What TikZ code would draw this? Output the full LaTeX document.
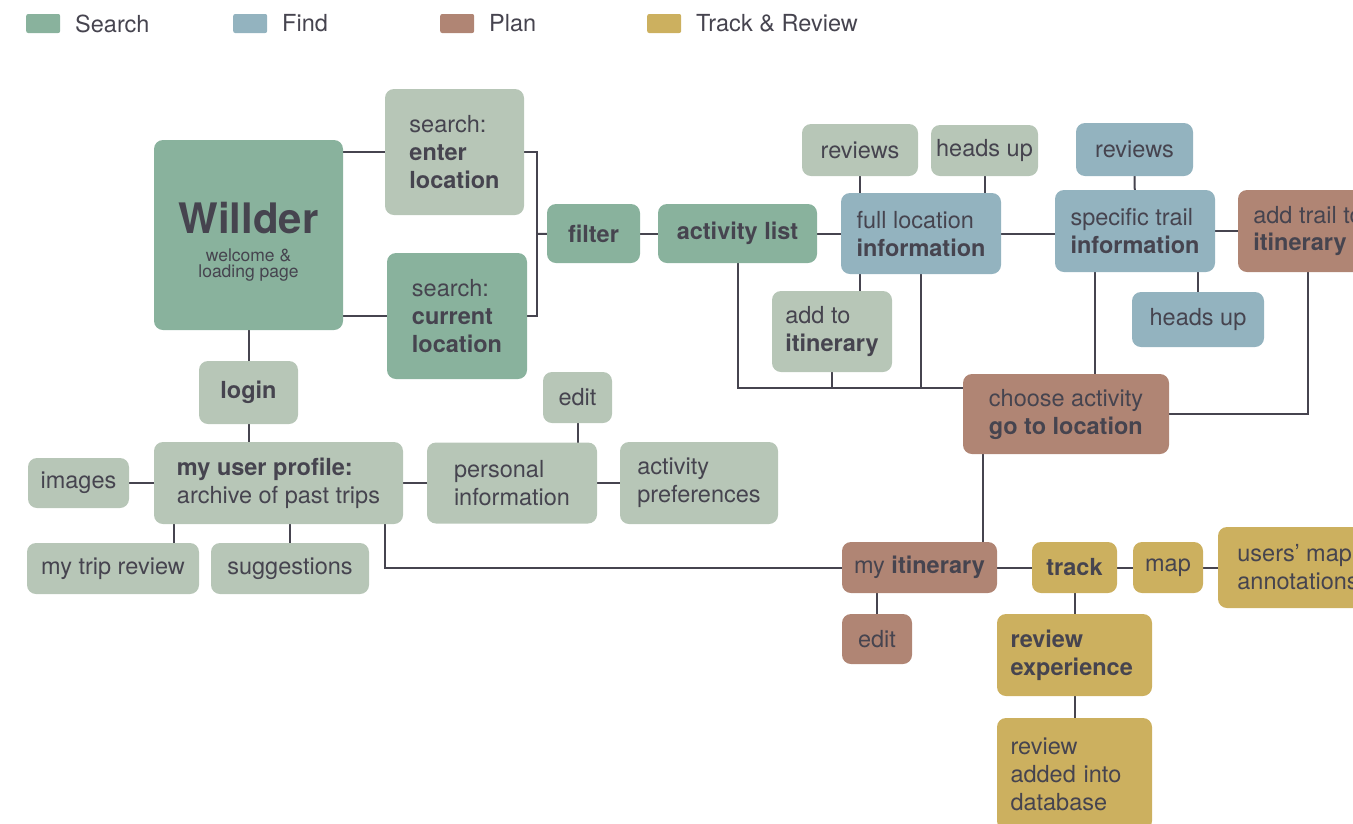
\documentclass[tikz,border=0pt]{standalone}
\usepackage{fontspec}
\setmainfont{TeX Gyre Heros}
\usetikzlibrary{positioning,calc}
\definecolor{ink}{HTML}{46444F}
\definecolor{srch}{HTML}{89B29D}
\definecolor{sage}{HTML}{B7C6B7}
\definecolor{find}{HTML}{93B3BF}
\definecolor{plan}{HTML}{B08574}
\definecolor{trk}{HTML}{CCB05F}
\tikzstyle{box}=[rounded corners=9pt,text=ink,inner sep=0pt,align=left,font=\fontsize{23.5}{28}\selectfont]
\tikzstyle{search box}=[box,fill=srch]
\tikzstyle{sub box}=[box,fill=sage]
\tikzstyle{find box}=[box,fill=find]
\tikzstyle{plan box}=[box,fill=plan]
\tikzstyle{review box}=[box,fill=trk]
\tikzstyle{legend key}=[rounded corners=2pt,minimum width=34pt,minimum height=19pt,inner sep=0pt]
\tikzstyle{legend label}=[text=ink,font=\fontsize{23.5}{28}\selectfont,inner sep=0pt,anchor=west]
\tikzstyle{link}=[draw,ink,line width=2pt]
\tikzset{wh/.style 2 args={minimum width=#1pt,minimum height=#2pt}}
\pgfdeclarelayer{background}
\pgfsetlayers{background,main}

\begin{document}
\begin{tikzpicture}[x=1pt,y=-1pt]
\useasboundingbox (0,0) rectangle (1353,823);
\clip (0,0) rectangle (1353,823);

% Legend
\foreach \x/\col/\name/\lbl in {26/srch/search/Search,233/find/find/Find,440/plan/plan/Plan,647/trk/track/{Track \& Review}}{
\node[legend key,fill=\col,anchor=west] (key\name) at (\x,23.5) {};
\node[legend label] (lbl\name) at (\x+49,23.5) {\lbl};
}

% Search
\node[search box,wh={189}{190},text width=189pt,align=flush center] (willder) at (248.5,235)
{{\fontsize{42}{46}\selectfont\bfseries Willder\par}\vspace{12pt}{\fontsize{17.5}{16}\selectfont welcome \&\par loading page\par}\vspace{-13pt}};
\node[sub box,wh={139}{126}] (enter) at (454.5,152) {search:\\\textbf{enter}\\\textbf{location}};
\node[search box,wh={140}{126}] (current) at (457,316) {search:\\\textbf{current}\\\textbf{location}};
\node[search box,wh={93}{59}] (filter) at (593.5,233.5) {\textbf{filter}};
\node[search box,wh={159}{59}] (actlist) at (737.5,233.5) {\textbf{activity list}};
\node[sub box,wh={99}{63}] (login) at (248.5,392.5) {\textbf{login}};
\node[sub box,wh={249}{82}] (profile) at (278.5,483) {\textbf{my user profile:}\\archive of past trips};
\node[sub box,wh={101}{50}] (images) at (78.5,483) {images};
\node[sub box,wh={172}{51}] (tripreview) at (113,568.5) {my trip review};
\node[sub box,wh={158}{51}] (suggest) at (290,568.5) {suggestions};
\node[sub box,wh={69}{51}] (edit1) at (577.5,397.5) {edit};
\node[sub box,wh={170}{81}] (persinfo) at (512,483) {personal\\information};
\node[sub box,wh={158}{82}] (actpref) at (699,483) {activity\\preferences};

% Find
\node[find box,wh={160}{81}] (fullloc) at (921,233.5) {full location\\\textbf{information}};
\node[sub box,wh={116}{52}] (revs1) at (860,150) {reviews};
\node[sub box,wh={107}{51}] (heads1) at (984.5,150.5) {heads up};
\node[sub box,wh={120}{81}] (additin) at (832,331.5) {add to\\\textbf{itinerary}};
\node[find box,wh={160}{82}] (trail) at (1135,231) {specific trail\\\textbf{information}};
\node[find box,wh={117}{53}] (revs2) at (1134.5,149.5) {reviews};
\node[find box,wh={132}{55}] (heads2) at (1198,319.5) {heads up};

% Plan
\node[plan box,wh={140}{82}] (addtrail) at (1308,231) {add trail to\\\textbf{itinerary}};
\node[plan box,wh={206}{80}] (choose) at (1066,414) {choose activity\\\textbf{go to location}};
\node[plan box,wh={155}{51}] (itin) at (919.5,567.5) {my \textbf{itinerary}};
\node[plan box,wh={70}{50}] (edit2) at (877,639) {edit};

% Track & Review
\node[review box,wh={85}{51}] (track) at (1074.5,567.5) {\textbf{track}};
\node[review box,wh={70}{51}] (map) at (1168,567.5) {map};
\node[review box,wh={160}{81}] (usersmap) at (1298,567.5) {users’ map\\annotations};
\node[review box,wh={155}{82},text width=128pt] (revexp) at (1074.5,655) {\textbf{review}\\\textbf{experience}};
\node[review box,wh={155}{112},text width=128pt] (revdb) at (1074.5,774) {review\\added into\\database};

% Connectors
\begin{pgfonlayer}{background}
\coordinate (brk) at (537,234);
\coordinate (junc) at ([yshift=26pt]choose.west);
\coordinate (tb) at ([xshift=40pt]trail.south west);
\coordinate (cb) at ([xshift=20pt]choose.south west);
\coordinate (pa) at ([xshift=20pt]profile.south west);
\coordinate (pb) at ([xshift=-18pt]profile.south east);

\foreach \source/\dest in {filter/actlist,actlist/fullloc,revs2/trail,willder/login,images/profile,profile/persinfo,persinfo/actpref,itin/track,track/map,map/usersmap,track/revexp,revexp/revdb,brk/filter}
\path[link] (\source) -- (\dest);

\foreach \source/\dest in {revs1/additin,heads1/fullloc,heads2/trail,edit1/persinfo,edit2/itin,login/profile,suggest/profile,fullloc/junc,additin/junc,tb/choose,cb/itin,pa/tripreview}
\path[link] (\source) -- (\source |- \dest);

\path[link] (enter) -- (enter -| willder);
\path[link] (current) -- (current -| willder);
\path[link] (enter) -| (brk) |- (current);
\path[link] (fullloc) -- (fullloc -| trail);
\path[link] (trail) -- (trail -| addtrail);
\path[link] (actlist) |- (junc);
\path[link] (addtrail) |- (choose);
\path[link] (pb) |- (itin);
\end{pgfonlayer}

\end{tikzpicture}
\end{document}
